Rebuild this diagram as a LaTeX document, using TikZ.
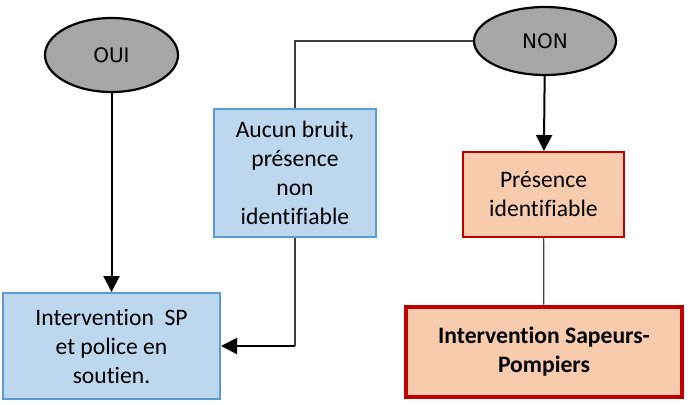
\documentclass[tikz,border=0pt]{standalone}
\usepackage{fontspec}
\setmainfont{Carlito}[Ligatures=NoCommon]
\newfontfamily\ovalfont{DejaVu Sans}
\usetikzlibrary{shapes.geometric,arrows.meta}

\definecolor{bluefill}{HTML}{BDD7EE}
\definecolor{blueline}{HTML}{5B9BD5}
\definecolor{redfill}{HTML}{F8CBAD}
\definecolor{redline}{HTML}{C00000}
\definecolor{ovalgray}{HTML}{A6A6A6}

\begin{document}
\begin{tikzpicture}
[   x=0.5pt, y=-0.5pt,
    every node/.style={font=\fontsize{11.8}{14.5}\selectfont, align=center, inner sep=0},
    choice/.style={ellipse, draw=black, fill=ovalgray, line width=1.1pt,
        font=\ovalfont\fontsize{10}{12}\selectfont},
    bluebox/.style={rectangle, draw=blueline, fill=bluefill, line width=1pt},
    redbox/.style={rectangle, draw=redline, fill=redfill, line width=1pt},
    finalbox/.style={rectangle, draw=redline, fill=redfill, line width=1.8pt,
        font=\bfseries\fontsize{11.8}{14.5}\selectfont},
    arrow/.style={line width=1pt, -{Triangle[length=8pt,width=8pt]}},
    link/.style={draw=black!75, line width=0.6pt}
]
    \useasboundingbox (0,0) rectangle (692,404);

    \node[choice, minimum width=66.5pt, minimum height=37pt] (OUI) at (111.5,55) {OUI};
    \node[choice, minimum width=71pt, minimum height=34pt] (NON) at (545,41) {NON};

    \node[bluebox, minimum width=81pt, minimum height=64pt] (aucun) at (295,173)
        {Aucun bruit,\\présence\\non\\identifiable};
    \node[redbox, minimum width=80.5pt, minimum height=42.5pt] (presence) at (543.5,194.5)
        {Présence\\identifiable};
    \node[bluebox, minimum width=108.5pt, minimum height=53pt] (interSP) at (111.5,346)
        {Intervention\ \ SP\\et police en\\soutien.};
    \node[finalbox, minimum width=138pt, minimum height=45pt] (pompiers) at (544,352)
        {Intervention Sapeurs-\\Pompiers};

    \coordinate (bend1) at (aucun.north |- NON.west);
    \coordinate (bend2) at (aucun.south |- interSP.east);

    \draw[arrow] (OUI) -- (interSP);
    \draw[arrow] (NON) -- (presence);
    \draw[link] (NON.west) -- (bend1) -- (aucun.north);
    \draw[link] (aucun.south) -- (bend2);
    \draw[arrow] (bend2) -- (interSP.east);
    \draw[link] (presence) -- (pompiers);
\end{tikzpicture}
\end{document}
